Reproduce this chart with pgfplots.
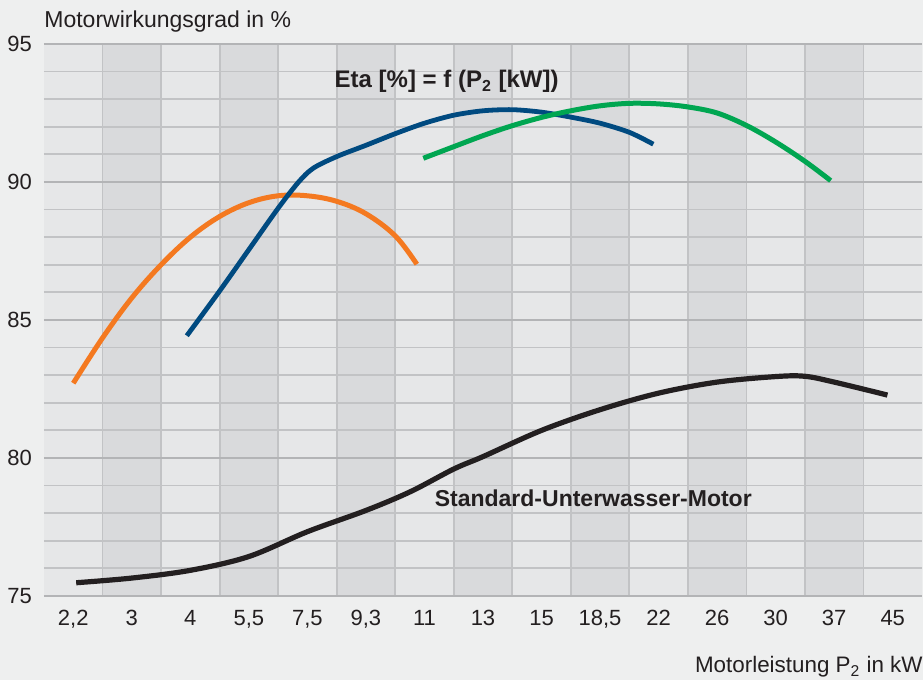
\documentclass[border=0pt]{standalone}
\usepackage{pgfplots}
\pgfplotsset{compat=1.18}
\usepackage{fontspec}
\setmainfont{Liberation Sans}
\definecolor{bgc}{HTML}{EEEFEF}
\definecolor{bandlight}{HTML}{E6E7E8}
\definecolor{banddark}{HTML}{D9DADC}
\definecolor{gridc}{HTML}{C2C3C5}
\definecolor{gridmaj}{HTML}{B3B4B6}
\definecolor{textc}{HTML}{231F20}
\definecolor{corange}{HTML}{F47920}
\definecolor{cblue}{HTML}{004A80}
\definecolor{cgreen}{HTML}{00A651}
\definecolor{cblack}{HTML}{231F20}
\begin{document}
\begin{tikzpicture}
\begin{axis}[
  set layers,
  scale only axis, width=439pt, height=276pt,
  at={(0,0)}, anchor=south west,
  clip=false,
  xmin=-0.5, xmax=14.5, ymin=75, ymax=95,
  xtick={0,...,14},
  xticklabels={{2,2},3,4,{5,5},{7,5},{9,3},11,13,15,{18,5},22,26,30,37,45},
  minor xtick={0.5,1.5,...,13.5},
  ytick={75,80,...,95},
  minor ytick={76,77,78,79,81,82,83,84,86,87,88,89,91,92,93,94},
  xminorgrids, ymajorgrids, yminorgrids,
  major tick length=0pt, minor tick length=0pt,
  axis line style={draw=none},
  minor grid style={draw=gridc, line width=0.9pt},
  major grid style={draw=gridmaj, line width=1pt},
  tick label style={font=\fontsize{11}{13}\selectfont, text=textc},
  xticklabel style={yshift=-3.5pt},
  yticklabel style={xshift=-2.5pt},
  /pgf/number format/assume math mode=true,
]
\begin{pgfonlayer}{axis background}
\fill[bgc] ([xshift=-22pt,yshift=-42pt]rel axis cs:0,0) rectangle ([xshift=0.5pt,yshift=22pt]rel axis cs:1,1);
\fill[bandlight] (axis cs:-0.5,75) rectangle (axis cs:14.5,95);
\fill[banddark] (axis cs:0.5,75) rectangle (axis cs:1.5,95);
\fill[banddark] (axis cs:2.5,75) rectangle (axis cs:3.5,95);
\fill[banddark] (axis cs:4.5,75) rectangle (axis cs:5.5,95);
\fill[banddark] (axis cs:6.5,75) rectangle (axis cs:7.5,95);
\fill[banddark] (axis cs:8.5,75) rectangle (axis cs:9.5,95);
\fill[banddark] (axis cs:10.5,75) rectangle (axis cs:11.5,95);
\fill[banddark] (axis cs:12.5,75) rectangle (axis cs:13.5,95);
\end{pgfonlayer}

% orange
\addplot[corange, line width=2.5pt, smooth, tension=0.6] coordinates {
(0,82.71) (0.5,84.35) (1,85.8) (1.5,87.0) (2,88.0) (2.5,88.75) (3,89.25)
(3.5,89.5) (4,89.5) (4.5,89.3) (5,88.85) (5.5,88.05) (5.87,87.02)};
% blue
\addplot[cblue, line width=2.4pt, smooth, tension=0.5] coordinates {
(1.94,84.43) (2.5,86.05) (3.0,87.55) (3.5,89.05) (3.85,90.0) (4.1,90.5)
(4.5,90.92) (5,91.33) (5.5,91.75) (6,92.13) (6.5,92.42) (7,92.58) (7.5,92.62)
(8,92.53) (8.5,92.35) (9,92.13) (9.5,91.8) (9.91,91.37)};
% green
\addplot[cgreen, line width=2.5pt, smooth, tension=0.55] coordinates {
(5.98,90.86) (6.5,91.28) (7,91.68) (7.5,92.04) (8,92.34) (8.5,92.58)
(9,92.76) (9.5,92.85) (10,92.83) (10.5,92.72) (11,92.5) (11.5,92.05)
(12,91.45) (12.5,90.75) (12.94,90.05)};
% black
\addplot[cblack, line width=2.6pt, smooth, tension=0.55] coordinates {
(0.05,75.48) (1,75.65) (2,75.93) (3,76.43) (4,77.33) (5,78.1) (5.76,78.78)
(6.5,79.6) (7,80.05) (8,81.0) (9,81.75) (10,82.35) (11,82.75) (12,82.95)
(12.5,82.96) (13,82.75) (13.91,82.28)};

\node[anchor=base west, inner sep=0pt, text=textc, font=\fontsize{12}{14}\selectfont\bfseries]
  at (axis cs:4.46,93.41) {Eta [\%] = f (P\textsubscript{2} [kW])};
\node[anchor=base west, inner sep=0pt, text=textc, font=\fontsize{11.5}{13}\selectfont\bfseries]
  at (axis cs:6.17,78.24) {Standard-Unterwasser-Motor};
\node[anchor=base west, inner sep=0pt, text=textc, font=\fontsize{11.5}{13}\selectfont]
  at ([yshift=8pt]rel axis cs:0,1) {Motorwirkungsgrad in \%};
\node[anchor=base east, inner sep=0pt, text=textc, font=\fontsize{11.2}{13}\selectfont]
  at ([xshift=0.5pt,yshift=-38.5pt]rel axis cs:1,0) {Motorleistung P\textsubscript{2} in kW};
\end{axis}
\pgfresetboundingbox
\path[use as bounding box] (-22pt,-42pt) rectangle (439.5pt,298pt);
\end{tikzpicture}
\end{document}
